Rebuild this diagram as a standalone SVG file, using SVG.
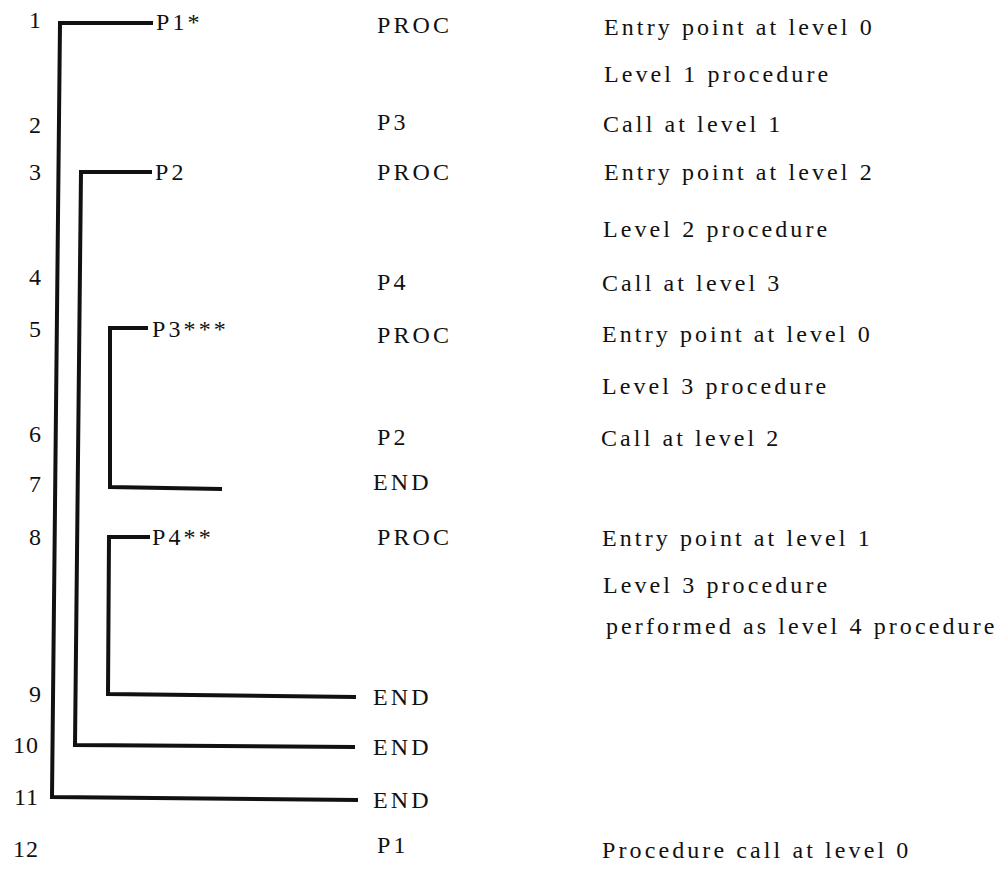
<svg xmlns="http://www.w3.org/2000/svg" width="999" height="869" viewBox="0 0 999 869">
<style>
text{font-family:"Liberation Serif","Times New Roman",serif;font-size:24px;fill:#111;letter-spacing:3.1px}
.num{text-anchor:end;letter-spacing:1px}
.br{fill:none;stroke:#111;stroke-width:4;stroke-linejoin:miter;stroke-linecap:butt}
</style>
<rect width="999" height="869" fill="#fff"/>
<g id="connectors">
<polyline class="br" points="153,23 60,23 52,797 358,800"/>
<polyline class="br" points="152,172 81,172 75,745 355,747"/>
<polyline class="br" points="148,328 110,328 110,487 222,489"/>
<polyline class="br" points="150,537 109,537 108,694 356,697"/>
</g>
<g id="line-numbers">
<text class="num" x="42" y="28">1</text>
<text class="num" x="42" y="133">2</text>
<text class="num" x="42" y="180">3</text>
<text class="num" x="42" y="285">4</text>
<text class="num" x="42" y="337">5</text>
<text class="num" x="42" y="442">6</text>
<text class="num" x="42" y="492">7</text>
<text class="num" x="42" y="545">8</text>
<text class="num" x="42" y="702">9</text>
<text class="num" x="39" y="753">10</text>
<text class="num" x="39" y="805">11</text>
<text class="num" x="39" y="857">12</text>
</g>
<g id="node-P1"><text x="156" y="30">P1*</text></g>
<g id="node-P2"><text x="155" y="180">P2</text></g>
<g id="node-P3"><text x="152" y="337">P3***</text></g>
<g id="node-P4"><text x="152" y="545">P4**</text></g>
<g id="statements">
<text x="377" y="33">PROC</text>
<text x="377" y="130">P3</text>
<text x="377" y="180">PROC</text>
<text x="377" y="290">P4</text>
<text x="377" y="343">PROC</text>
<text x="377" y="445">P2</text>
<text x="373" y="490">END</text>
<text x="377" y="545">PROC</text>
<text x="373" y="705">END</text>
<text x="373" y="755">END</text>
<text x="373" y="808">END</text>
<text x="377" y="853">P1</text>
</g>
<g id="comments">
<text x="604" y="35">Entry point at level 0</text>
<text x="604" y="82">Level 1 procedure</text>
<text x="603" y="132">Call at level 1</text>
<text x="604" y="180">Entry point at level 2</text>
<text x="603" y="237">Level 2 procedure</text>
<text x="602" y="291">Call at level 3</text>
<text x="602" y="342">Entry point at level 0</text>
<text x="602" y="394">Level 3 procedure</text>
<text x="601" y="446">Call at level 2</text>
<text x="602" y="546">Entry point at level 1</text>
<text x="603" y="593">Level 3 procedure</text>
<text x="606" y="634">performed as level 4 procedure</text>
<text x="602" y="858">Procedure call at level 0</text>
</g>
</svg>
